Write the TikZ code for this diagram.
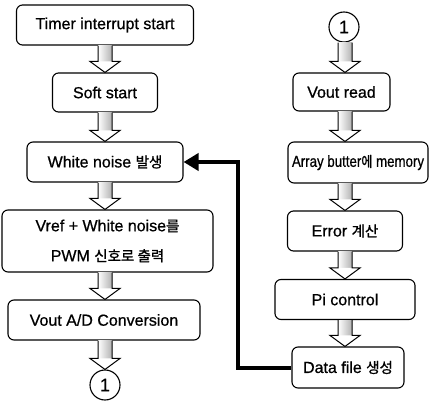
\documentclass[tikz,border=0pt]{standalone}
\usepackage{fontspec}
\setmainfont{Liberation Sans}[FakeBold=0.7]
\newfontfamily\kr{Noto Sans CJK KR}[FakeBold=1.2]
\usetikzlibrary{arrows.meta,calc}

% Korean words inside the step labels
\newcommand\hg[1]{{\kr\fontsize{14.5}{14.5}\selectfont #1}}

% Hollow block arrow from the bottom of one node to the top of the next,
% running down the vertical line through a column coordinate
\newcommand\flowarrow[3]{%
  \path[shaftfill] let \p1=(#1.south), \p2=(#2.north), \p3=(#3) in
    (\x3-7pt,\y1) rectangle (\x3+7pt,\y2+11pt);
  \path[fill=white] let \p1=(#1.south), \p2=(#2.north), \p3=(#3) in
    (\x3-15pt,\y2+11pt) -- (\x3+15pt,\y2+11pt) -- (\x3,\y2) -- cycle;
  \draw[arrowline] let \p1=(#1.south), \p2=(#2.north), \p3=(#3) in
    (\x3-7pt,\y1) -- (\x3-7pt,\y2+11pt) -- (\x3-15pt,\y2+11pt) -- (\x3,\y2)
    -- (\x3+15pt,\y2+11pt) -- (\x3+7pt,\y2+11pt) -- (\x3+7pt,\y1);
}

\begin{document}
\begin{tikzpicture}[x=1pt,y=-1pt,
  stepbox/.style={draw, line width=1.1pt, rounded corners=6pt,
    minimum height=40pt, inner sep=0pt,
    font=\fontsize{16}{30}\selectfont, align=center},
  connector/.style={circle, draw, line width=1.1pt, minimum size=30pt,
    inner sep=0pt, font=\fontsize{18}{18}\selectfont},
  shaftfill/.style={left color=white, right color=gray!60},
  arrowline/.style={line width=1pt, line join=miter},
  feedback/.style={line width=4pt, -{Triangle[length=15pt,width=17pt]}}
]
\useasboundingbox (0,0) rectangle (429,401);

% column lines for the block arrows
\coordinate (lcol) at (105,0);
\coordinate (rcol) at (345,0);

% left column
\node[stepbox, minimum width=177pt] (timer) at (105,25) {Timer interrupt start};
\node[stepbox, minimum width=105pt, minimum height=39pt] (soft) at (105,92.5) {Soft start};
\node[stepbox, minimum width=156pt] (white) at (105,162) {White noise \hg{발생}};
\node[stepbox, minimum width=211pt, minimum height=62pt] (vref) at (107.5,241)
  {Vref + White noise\hg{를}\\PWM \hg{신호로 출력}};
\node[stepbox, minimum width=192pt] (adc) at (104,320) {Vout A/D Conversion};
\node[connector] (outc) at (105,385) {1};

% right column
\node[connector] (inc) at (344,27) {1};
\node[stepbox, minimum width=97pt, minimum height=38pt] (read) at (341.5,92) {Vout read};
\node[stepbox, minimum width=140pt, minimum height=41pt] (array) at (358,162.5)
  {\scalebox{0.83}[1]{Array butter\hg{에} memory}};
\node[stepbox, minimum width=115pt] (error) at (345,231) {Error \hg{계산}};
\node[stepbox, minimum width=140pt] (pi) at (345,299.5) {Pi control};
\node[stepbox, minimum width=112pt, minimum height=41pt] (data) at (348,367.5) {Data file \hg{생성}};

% block arrows
\flowarrow{timer}{soft}{lcol}
\flowarrow{soft}{white}{lcol}
\flowarrow{white}{vref}{lcol}
\flowarrow{vref}{adc}{lcol}
\flowarrow{adc}{outc}{lcol}
\flowarrow{inc}{read}{rcol}
\flowarrow{read}{array}{rcol}
\flowarrow{array}{error}{rcol}
\flowarrow{error}{pi}{rcol}
\flowarrow{pi}{data}{rcol}

% feedback from the data file back to the noise generator
\coordinate (fbcorner) at (238,162);
\draw[feedback] (data.west) -| (fbcorner) -- (white.east);
\end{tikzpicture}
\end{document}
